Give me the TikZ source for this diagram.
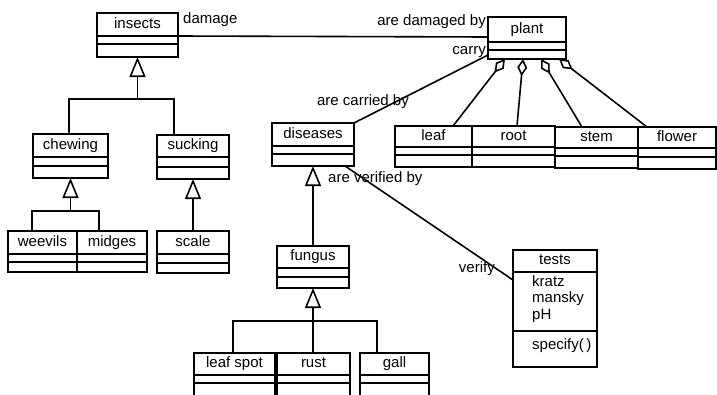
\documentclass[tikz,border=0pt]{standalone}
\usepackage{fontspec}
\setmainfont{Liberation Sans}
\usetikzlibrary{arrows.meta,calc}

\tikzset{
  x=1pt, y=-1pt,
  boxline/.style={line width=1.8pt},
  classbox/.style={draw, boxline, inner sep=0pt, outer sep=0pt},
  lbl/.style={font=\fontsize{15}{17}\selectfont, inner sep=0pt, text height=10.5pt, text depth=3pt},
  link/.style={line width=1.6pt},
  gen/.style={link, -{Triangle[open, length=20pt, width=16pt, line width=1.6pt]}},
  agg/.style={link, {Diamond[open, length=17pt, width=10pt, line width=1.6pt]}-},
}

% class box: name, left, top, right, bottom, divider 1, divider 2, title
\newcommand{\umlclass}[8]{%
  \node[classbox, minimum width={(#4-#2)*1pt}, minimum height={(#5-#3)*1pt}]
    (#1) at ({(#2+#4)/2},{(#3+#5)/2}) {};
  \draw[boxline] (#2,#6) -- (#4,#6) (#2,#7) -- (#4,#7);
  \node[lbl] (#1-title) at ({(#2+#4)/2},{(#3+#6)/2}) {#8};
}

\begin{document}
\begin{tikzpicture}
  \useasboundingbox (0,0) rectangle (717,394);
  \fill[white] (0,0) rectangle (717,394);
  \clip (0,0) rectangle (717,394);

  % insects branch
  \umlclass{insects}{97}{13}{178}{57}{36}{44}{insects}
  \umlclass{chewing}{33}{134}{108}{178}{157}{166}{chewing}
  \umlclass{sucking}{157}{135}{229}{179}{157}{167}{sucking}
  \umlclass{weevils}{8}{231}{77}{272}{254}{262}{weevils}
  \umlclass{midges}{77}{231}{147}{272}{254}{262}{midges}
  \umlclass{scale}{157}{231}{229}{273}{254}{263}{scale}

  % plant and its parts
  \umlclass{plant}{488}{17}{566}{59}{42}{50}{plant}
  \umlclass{leaf}{395}{126}{472}{167}{147}{155}{leaf}
  \umlclass{root}{472}{126}{555}{167}{147}{155}{root}
  \umlclass{stem}{555}{127}{638}{168}{148}{156}{stem}
  \umlclass{flower}{638}{127}{716}{169}{148}{157}{flower}

  % diseases branch
  \umlclass{diseases}{272}{123}{354}{166}{146}{154}{diseases}
  \umlclass{fungus}{277}{246}{349}{288}{268}{277}{fungus}
  \umlclass{leafspot}{194}{353}{275}{400}{375}{383}{leaf spot}
  \umlclass{rust}{277}{353}{350}{400}{375}{383}{rust}
  \umlclass{gall}{360}{353}{429}{400}{375}{383}{gall}

  % tests class with attributes and operation
  \node[classbox, minimum width=84pt, minimum height=117pt] (tests) at (555,308.5) {};
  \draw[boxline] (513,272) -- (597,272) (513,331) -- (597,331);
  \node[lbl] (tests-title) at (555,261) {tests};
  \node[font=\fontsize{15}{16.5}\selectfont, inner sep=0pt, align=left, anchor=north west]
    (tests-attr) at (532,275) {kratz\\mansky\\pH};
  \node[lbl, anchor=west] (tests-op) at (532,346) {specify(\,)};

  % generalisations
  \coordinate (j-ins) at ($(insects.south)+(0,42)$);
  \draw[gen] (j-ins) -- (insects.south);
  \draw[link] ($(chewing.north west)+(36,0)$) |- (j-ins) -| ($(sucking.north west)+(17,0)$);

  \coordinate (j-chew) at ($(chewing.south)+(0,33)$);
  \draw[gen] (j-chew) -- (chewing.south);
  \draw[link] ($(weevils.north west)+(24,0)$) |- (j-chew) -| ($(midges.north west)+(22,0)$);

  \draw[gen] (scale.north) -- (sucking.south);
  \draw[gen] (fungus.north) -- (diseases.south);

  \coordinate (j-fun) at ($(fungus.south)+(0,33)$);
  \draw[gen] (j-fun) -- (fungus.south);
  \draw[link] ($(leafspot.north west)+(39,0)$) |- (j-fun) -| ($(gall.north west)+(17,0)$);
  \draw[link] (j-fun) -- (rust.north -| j-fun);

  % aggregations of plant parts
  \draw[agg] ($(plant.south west)+(17,0)$) -- ($(leaf.north west)+(58,0)$);
  \draw[agg] ($(plant.south west)+(35,0)$) -- ($(root.north west)+(45,0)$);
  \draw[agg] ($(plant.south west)+(53,0)$) -- ($(stem.north west)+(27,0)$);
  \draw[agg] ($(plant.south west)+(71,0)$) -- ($(flower.north west)+(9,0)$);

  % associations
  \draw[link] ($(insects.north east)+(0,23)$) -- ($(plant.north west)+(0,20)$);
  \node[lbl, anchor=west] (l-damage) at (183,20) {damage};
  \node[lbl, anchor=east] (l-damaged) at (486,22) {are damaged by};

  \draw[link] ($(plant.south west)+(0,-4)$) -- (diseases.north east);
  \node[lbl, anchor=east] (l-carry) at (486,51) {carry};
  \node[lbl] (l-carried) at (363,102) {are carried by};

  \draw[link] ($(diseases.south east)+(-9,0)$) -- ($(tests.north west)+(0,30)$);
  \node[lbl, anchor=west] (l-verified) at (328,179) {are verified by};
  \node[lbl, anchor=east] (l-verify) at (495,269) {verify};
\end{tikzpicture}
\end{document}
